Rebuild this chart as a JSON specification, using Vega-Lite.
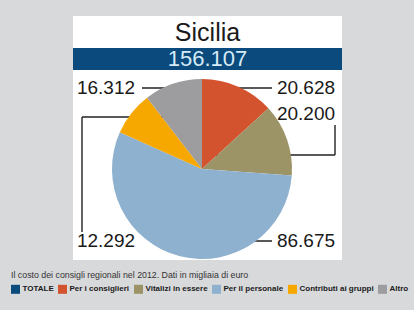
{
  "$schema": "https://vega.github.io/schema/vega-lite/v6.json",
  "background": "#d8d9db",
  "padding": {"left": 11, "top": 16, "right": 30, "bottom": 20},
  "config": {
    "locale": {"number": {"decimal": ",", "thousands": ".", "grouping": [3], "currency": ["€ ", ""]}},
    "view": {"stroke": null},
    "font": "Liberation Sans"
  },
  "datasets": {
    "voci": [
      {"categoria": "Per i consiglieri", "valore": 20628, "ordine": 1, "lato": "destra", "fila": "alto"},
      {"categoria": "Vitalizi in essere", "valore": 20200, "ordine": 2, "lato": "destra", "fila": "medio"},
      {"categoria": "Per il personale", "valore": 86675, "ordine": 3, "lato": "destra", "fila": "basso"},
      {"categoria": "Contributi ai gruppi", "valore": 12292, "ordine": 4, "lato": "sinistra", "fila": "basso"},
      {"categoria": "Altro", "valore": 16312, "ordine": 5, "lato": "sinistra", "fila": "alto"}
    ],
    "totale": [{"regione": "Sicilia", "categoria": "TOTALE", "valore": 156107}]
  },
  "spacing": 0,
  "vconcat": [
    {
      "width": 269, "height": 32,
      "view": {"fill": "white", "stroke": null},
      "data": {"name": "totale"},
      "mark": {"type": "text", "font": "Liberation Sans", "fontSize": 25, "color": "#1a1a1a", "dy": 1},
      "encoding": {"text": {"field": "regione", "type": "nominal"}}
    },
    {
      "width": 269, "height": 22,
      "view": {"fill": "#0b4a7c", "stroke": null},
      "data": {"name": "totale"},
      "mark": {"type": "text", "fontSize": 22, "color": "#d6ebf8"},
      "encoding": {"text": {"field": "valore", "type": "quantitative", "format": ",d"}}
    },
    {
      "width": 269, "height": 190,
      "view": {"fill": "white", "stroke": null},
      "data": {"name": "voci"},
      "transform": [
        {"calculate": "'centro'", "as": "perno"},
        {"calculate": "'alto'", "as": "attacco"}
      ],
      "layer": [
        {
          "transform": [{"filter": "datum.lato == 'sinistra' && datum.fila == 'alto'"}],
          "mark": {"type": "rule", "color": "#222222", "strokeWidth": 1.4, "xOffset": 36},
          "encoding": {
            "x": {"field": "lato", "type": "nominal", "axis": null, "scale": {"type": "point", "domain": ["sinistra", "centro", "destra"], "range": [33, 233], "padding": 0}},
            "x2": {"field": "perno"},
            "y": {"field": "fila", "type": "nominal", "axis": null, "scale": {"type": "point", "domain": ["alto", "centro", "basso"], "range": [18, 171], "padding": 0}}
          }
        },
        {
          "transform": [{"filter": "datum.lato == 'destra' && datum.fila != 'medio'"}],
          "mark": {"type": "rule", "color": "#222222", "strokeWidth": 1.4, "xOffset": -34},
          "encoding": {
            "x": {"field": "lato", "type": "nominal", "axis": null},
            "x2": {"field": "perno"},
            "y": {"field": "fila", "type": "nominal", "axis": null}
          }
        },
        {
          "transform": [{"filter": "datum.lato == 'sinistra' && datum.fila == 'basso'"}],
          "mark": {"type": "rule", "color": "#222222", "strokeWidth": 1.4, "xOffset": -24, "yOffset": -9, "y2Offset": 29},
          "encoding": {
            "x": {"field": "lato", "type": "nominal", "axis": null},
            "y": {"field": "fila", "type": "nominal", "axis": null},
            "y2": {"field": "attacco"}
          }
        },
        {
          "transform": [{"filter": "datum.lato == 'sinistra' && datum.fila == 'basso'"}],
          "mark": {"type": "rule", "color": "#222222", "strokeWidth": 1.4, "xOffset": -24, "yOffset": 29},
          "encoding": {
            "x": {"field": "lato", "type": "nominal", "axis": null},
            "x2": {"field": "perno"},
            "y": {"field": "attacco", "type": "nominal", "axis": null}
          }
        },
        {
          "transform": [{"filter": "datum.fila == 'medio'"}],
          "mark": {"type": "rule", "color": "#222222", "strokeWidth": 1.4, "xOffset": 29, "yOffset": 37, "y2Offset": -9.5},
          "encoding": {
            "x": {"field": "lato", "type": "nominal", "axis": null},
            "y": {"field": "attacco", "type": "nominal", "axis": null},
            "y2": {"field": "perno"}
          }
        },
        {
          "transform": [{"filter": "datum.fila == 'medio'"}],
          "mark": {"type": "rule", "color": "#222222", "strokeWidth": 1.4, "xOffset": 29, "yOffset": -9.5},
          "encoding": {
            "x": {"field": "lato", "type": "nominal", "axis": null},
            "x2": {"field": "perno"},
            "y": {"field": "perno", "type": "nominal", "axis": null}
          }
        },
        {
          "mark": {"type": "arc", "radius": 90, "xOffset": -5.5, "yOffset": 4},
          "encoding": {
            "theta": {"field": "valore", "type": "quantitative", "stack": true},
            "order": {"field": "ordine", "type": "quantitative"},
            "color": {
              "field": "categoria", "type": "nominal",
              "scale": {
                "domain": ["TOTALE", "Per i consiglieri", "Vitalizi in essere", "Per il personale", "Contributi ai gruppi", "Altro"],
                "range": ["#0b4a7c", "#d4532f", "#9c9466", "#8db1cf", "#f6a800", "#9d9d9f"]
              },
              "legend": {
                "title": "Il costo dei consigli regionali nel 2012. Dati in migliaia di euro",
                "orient": "none", "legendX": -62, "legendY": 255,
                "direction": "horizontal",
                "titleOrient": "top", "titleAnchor": "start",
                "titleFont": "Liberation Sans", "titleFontSize": 8.8, "titleFontWeight": "normal", "titleColor": "#333333", "titleLimit": 400, "titlePadding": 5,
                "labelFont": "Liberation Sans", "labelFontSize": 8, "labelFontWeight": "bold", "labelColor": "#1a1a1a", "labelOffset": 2.5,
                "symbolType": "square", "symbolSize": 81, "symbolStrokeWidth": 0, "symbolOpacity": 1,
                "columnPadding": 4, "padding": 0
              }
            }
          }
        },
        {
          "transform": [{"filter": "datum.fila != 'medio'"}],
          "mark": {"type": "text", "fontSize": 19, "color": "#1a1a1a"},
          "encoding": {
            "x": {"field": "lato", "type": "nominal", "axis": null},
            "y": {"field": "fila", "type": "nominal", "axis": null},
            "text": {"field": "valore", "type": "quantitative", "format": ",d"}
          }
        },
        {
          "transform": [{"filter": "datum.fila == 'medio'"}],
          "mark": {"type": "text", "fontSize": 19, "color": "#1a1a1a", "dy": 26},
          "encoding": {
            "x": {"field": "lato", "type": "nominal", "axis": null},
            "y": {"field": "attacco", "type": "nominal", "axis": null},
            "text": {"field": "valore", "type": "quantitative", "format": ",d"}
          }
        }
      ]
    }
  ]
}
